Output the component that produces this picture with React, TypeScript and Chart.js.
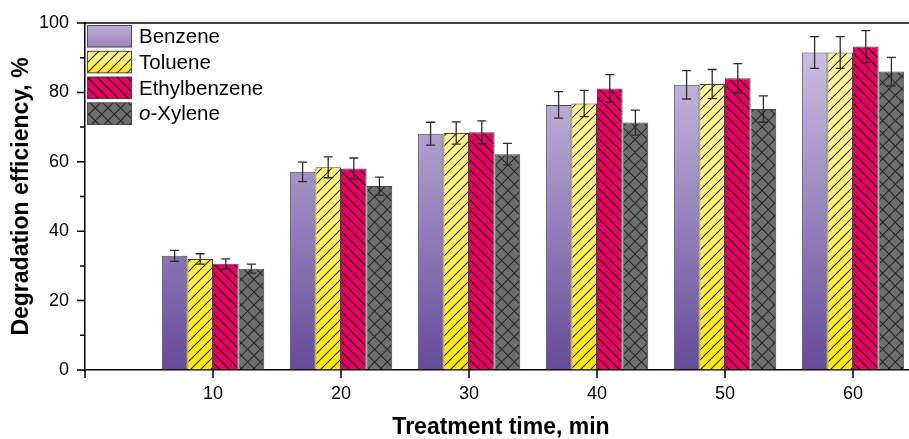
import { useEffect, useRef } from 'react';
import { Chart, registerables } from 'chart.js';

Chart.register(...registerables);

const FONT = "'Liberation Sans', Arial, Helvetica, sans-serif";

// ---- Data ----
const times = [10, 20, 30, 40, 50, 60];
const seriesNames = ['Benzene', 'Toluene', 'Ethylbenzene', 'o-Xylene'];
const benzene = [32.9, 57.1, 68.1, 76.4, 82.2, 91.5];
const benzeneErr = [1.6, 2.8, 3.3, 3.8, 4.1, 4.6];
const toluene = [32.0, 58.4, 68.3, 76.8, 82.4, 91.5];
const tolueneErr = [1.5, 3.0, 3.2, 3.8, 4.2, 4.6];
const ethylbenzene = [30.6, 58.1, 68.5, 81.1, 84.1, 93.2];
const ethylbenzeneErr = [1.45, 3.0, 3.3, 4.0, 4.2, 4.6];
const oXylene = [29.2, 53.0, 62.2, 71.3, 75.2, 86.0];
const oXyleneErr = [1.3, 2.6, 3.1, 3.6, 3.8, 4.1];
const yTickValues = [0, 10, 20, 30, 40, 50, 60, 70, 80, 90, 100];
const xTickValues = [0, 10, 20, 30, 40, 50, 60];

type Kind = 'benzene' | 'toluene' | 'ethyl' | 'xylene';
const kinds: Kind[] = ['benzene', 'toluene', 'ethyl', 'xylene'];
const values = [benzene, toluene, ethylbenzene, oXylene];
const errors = [benzeneErr, tolueneErr, ethylbenzeneErr, oXyleneErr];

function paintRegion(
  ctx: CanvasRenderingContext2D,
  kind: Kind,
  x: number,
  y: number,
  w: number,
  h: number,
  gTop: number,
  gBot: number
) {
  ctx.save();
  ctx.beginPath();
  ctx.rect(x, y, w, h);
  ctx.clip();
  let fill: string | CanvasGradient;
  if (kind === 'benzene') {
    const g = ctx.createLinearGradient(0, gTop, 0, gBot);
    g.addColorStop(0, '#d3c9e7');
    g.addColorStop(1, '#664a9a');
    fill = g;
  } else if (kind === 'toluene') {
    const g = ctx.createLinearGradient(0, gTop, 0, gBot);
    g.addColorStop(0, '#fff7a8');
    g.addColorStop(0.55, '#fff06e');
    g.addColorStop(1, '#ffe800');
    fill = g;
  } else if (kind === 'ethyl') {
    fill = '#e4005e';
  } else {
    fill = '#6e6e6e';
  }
  ctx.fillStyle = fill;
  ctx.fillRect(x, y, w, h);
  ctx.strokeStyle = '#151515';
  ctx.lineWidth = 1.05;
  const drawSlash = (P: number) => {
    ctx.beginPath();
    const start = Math.floor((x + y) / P) * P;
    for (let c = start; c <= x + w + y + h + P; c += P) {
      ctx.moveTo(c - y, y);
      ctx.lineTo(c - (y + h), y + h);
    }
    ctx.stroke();
  };
  const drawBack = (P: number) => {
    ctx.beginPath();
    const start = Math.floor((x - (y + h)) / P) * P;
    for (let c = start; c <= x + w - y + P; c += P) {
      ctx.moveTo(c + y, y);
      ctx.lineTo(c + y + h, y + h);
    }
    ctx.stroke();
  };
  if (kind === 'toluene') drawSlash(10);
  if (kind === 'ethyl') drawBack(10);
  if (kind === 'xylene') {
    ctx.strokeStyle = '#222';
    drawSlash(12.7);
    drawBack(12.7);
  }
  ctx.restore();
}

const fillCache = new WeakMap<any, Record<string, CanvasPattern | null>>();

function fillFor(chart: any, kind: Kind): any {
  const area = chart.chartArea;
  if (!area) return kind === 'benzene' ? '#9a86c0' : kind === 'toluene' ? '#fff176' : kind === 'ethyl' ? '#e4005e' : '#6e6e6e';
  const key = `${kind}-${chart.width}-${chart.height}-${area.left}-${area.top}-${area.right}-${area.bottom}`;
  let cache = fillCache.get(chart);
  if (!cache) {
    cache = {};
    fillCache.set(chart, cache);
  }
  if (cache[key]) return cache[key];
  const off = document.createElement('canvas');
  off.width = chart.width;
  off.height = chart.height;
  const octx = off.getContext('2d')!;
  paintRegion(octx, kind, area.left, area.top, area.right - area.left, area.bottom - area.top, area.top, area.bottom);
  const pat = chart.ctx.createPattern(off, 'no-repeat');
  cache[key] = pat;
  return pat;
}

const decorPlugin = {
  id: 'decor',
  afterDatasetsDraw(chart: any) {
    const ctx = chart.ctx as CanvasRenderingContext2D;
    const yScale = chart.scales.y;
    // error bars
    ctx.save();
    ctx.strokeStyle = '#2b2b2b';
    ctx.lineWidth = 1.3;
    kinds.forEach((_, di) => {
      const meta = chart.getDatasetMeta(di);
      meta.data.forEach((el: any, i: number) => {
        const v = values[di][i];
        const e = errors[di][i];
        const x = el.x;
        const yt = yScale.getPixelForValue(v + e);
        const yb = yScale.getPixelForValue(v - e);
        ctx.beginPath();
        ctx.moveTo(x, yt);
        ctx.lineTo(x, yb);
        ctx.moveTo(x - 4.5, yt);
        ctx.lineTo(x + 4.5, yt);
        ctx.moveTo(x - 4.5, yb);
        ctx.lineTo(x + 4.5, yb);
        ctx.stroke();
      });
    });
    ctx.restore();
  },
  afterDraw(chart: any) {
    const ctx = chart.ctx as CanvasRenderingContext2D;
    const area = chart.chartArea;
    const xScale = chart.scales.x;
    const yScale = chart.scales.y;
    ctx.save();
    ctx.strokeStyle = '#000';
    ctx.lineWidth = 1.5;
    // top spine
    ctx.beginPath();
    ctx.moveTo(area.left, area.top);
    ctx.lineTo(chart.width, area.top);
    ctx.stroke();
    // y ticks
    ctx.beginPath();
    yTickValues.forEach((v) => {
      const py = yScale.getPixelForValue(v);
      const len = v % 20 === 0 ? 8 : 5;
      ctx.moveTo(area.left, py);
      ctx.lineTo(area.left - len, py);
    });
    // x ticks
    xTickValues.forEach((v) => {
      const px = xScale.getPixelForValue(v);
      ctx.moveTo(px, area.bottom);
      ctx.lineTo(px, area.bottom + 8);
    });
    ctx.stroke();

    // legend
    const bx = 87;
    const bw = 45;
    const bh = 22.5;
    const pitch = 25.8;
    const y0 = 25;
    kinds.forEach((k, i) => {
      const by = y0 + i * pitch;
      if (k === 'benzene') paintRegion(ctx, k, bx, by, bw, bh, by - 12, by + bh + 28);
      else paintRegion(ctx, k, bx, by, bw, bh, by - 4, by + bh);
      ctx.strokeStyle = '#4a4a4a';
      ctx.lineWidth = 1;
      ctx.strokeRect(bx + 0.5, by + 0.5, bw - 1, bh - 1);
      ctx.fillStyle = '#000';
      ctx.textBaseline = 'middle';
      ctx.textAlign = 'left';
      const ty = by + bh / 2 + 1;
      const name = seriesNames[i];
      if (name.startsWith('o-')) {
        ctx.font = `italic 20.5px ${FONT}`;
        ctx.fillText('o', 139, ty);
        const w = ctx.measureText('o').width;
        ctx.font = `20.5px ${FONT}`;
        ctx.fillText(name.slice(1), 139 + w, ty);
      } else {
        ctx.font = `20.5px ${FONT}`;
        ctx.fillText(name, 139, ty);
      }
    });
    ctx.restore();
  },
};

export default function App() {
  const ref = useRef<HTMLCanvasElement>(null);
  useEffect(() => {
    const canvas = ref.current!;
    const datasets = kinds.map((k, di) => ({
      label: seriesNames[di],
      data: times.map((t, i) => ({ x: t, y: values[di][i] })),
      backgroundColor: (c: any) => fillFor(c.chart, k),
      borderColor: '#474747',
      borderWidth: 1,
      barPercentage: 1,
      categoryPercentage: 0.8,
    }));
    const chart = new Chart(canvas, {
      type: 'bar',
      data: { datasets } as any,
      plugins: [decorPlugin],
      options: {
        responsive: false,
        animation: false,
        layout: { padding: { top: 23, left: 0, right: 0, bottom: 0 } },
        plugins: {
          legend: { display: false },
          tooltip: { enabled: false },
        },
        scales: {
          x: {
            type: 'linear',
            min: 0,
            max: 65,
            offset: false,
            grid: { display: true, drawOnChartArea: false, color: 'rgba(0,0,0,0)', tickLength: 8 },
            border: { display: true, color: '#000', width: 1.5 },
            ticks: {
              stepSize: 10,
              includeBounds: false,
              autoSkip: false,
              maxRotation: 0,
              padding: 5,
              color: '#000',
              font: { family: FONT, size: 18 },
              callback: (v: any) => (v > 0 && v % 10 === 0 ? String(v) : ''),
            },
            title: {
              display: true,
              text: 'Treatment time, min',
              color: '#000',
              font: { family: FONT, size: 23, weight: 'bold', lineHeight: 1.0 },
              padding: { top: 0, bottom: 0 },
            },
            afterFit: (s: any) => {
              s.height = 69;
            },
          },
          y: {
            min: 0,
            max: 100,
            grid: { display: true, drawOnChartArea: false, color: 'rgba(0,0,0,0)', tickLength: 8 },
            border: { display: true, color: '#000', width: 1.5 },
            ticks: {
              stepSize: 10,
              autoSkip: false,
              padding: 8,
              color: '#000',
              font: { family: FONT, size: 18 },
              callback: (v: any) => (v % 20 === 0 ? String(v) : ''),
            },
            title: {
              display: true,
              text: 'Degradation efficiency, %',
              color: '#000',
              font: { family: FONT, size: 23, weight: 'bold', lineHeight: 1.0 },
              padding: { top: 10.5, bottom: 0 },
            },
            afterFit: (s: any) => {
              s.width = 85;
            },
          },
        },
      } as any,
    });
    return () => chart.destroy();
  }, []);
  return (
    <div
      style={{
        position: 'fixed',
        left: 0,
        top: 0,
        width: 909,
        height: 439,
        overflow: 'hidden',
        background: '#fff',
      }}
    >
      <canvas ref={ref} width={917} height={439} style={{ display: 'block', width: 917, height: 439 }} />
    </div>
  );
}
